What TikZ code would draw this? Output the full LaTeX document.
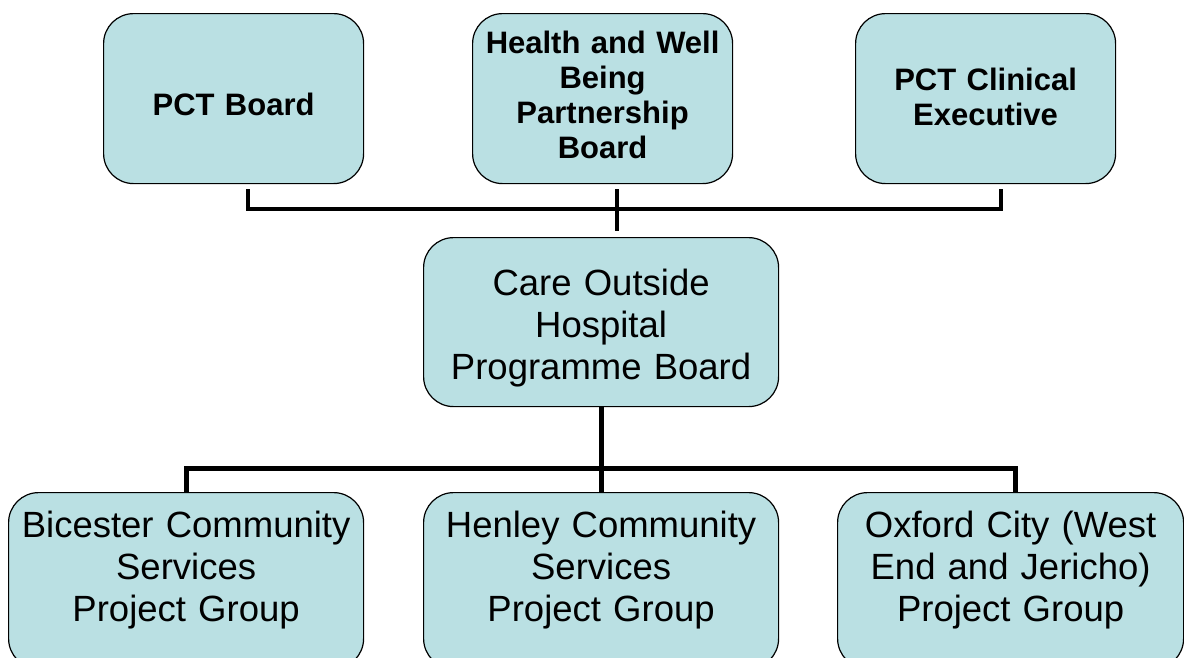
\documentclass[tikz,border=0pt]{standalone}
\usepackage{fontspec}
\setmainfont{Liberation Sans}
\usepackage{xcolor}
\usepackage{tikz}
\usetikzlibrary{positioning,calc}

\definecolor{boxfill}{RGB}{186,224,227}

\begin{document}
\begin{tikzpicture}[x=1pt, y=-1pt]
  % Define styles
  \tikzstyle{orgbox} = [rectangle, draw=black, line width=1.2pt, fill=boxfill, rounded corners=30pt, inner xsep=2pt, inner ysep=0pt, align=center, anchor=north west]
  \tikzstyle{board} = [orgbox, text width=256pt, font=\fontsize{31}{35}\selectfont\bfseries]
  \tikzstyle{group} = [orgbox, text width=351pt, font=\fontsize{36.5}{42}\selectfont]
  \tikzstyle{toplink} = [line width=4pt]
  \tikzstyle{lowlink} = [line width=5pt]

  \useasboundingbox (0,0) rectangle (1184,657);

  % Boards on top
  \node [board, text height=102pt, text depth=68pt] (pctboard) at (103,13) {PCT Board};
  \node [board, text height=40pt, text depth=130pt] (hwb) at (472,13) {Health and Well\\Being\\Partnership\\Board};
  \node [board, text height=77pt, text depth=93pt] (pctclin) at (855,13) {PCT Clinical\\Executive};

  % Programme board
  \node [group, text height=58pt, text depth=111pt] (cohpb) at (423,237) {Care Outside\\Hospital\\Programme Board};

  % Project groups
  \node [group, text height=45pt, text depth=131pt] (bicester) at (8,492) {Bicester Community\\Services\\Project Group};
  \node [group, text height=45pt, text depth=131pt] (henley) at (423,492) {Henley Community\\Services\\Project Group};
  \node [group, text width=342pt, text height=45pt, text depth=131pt] (oxford) at (837,492) {Oxford City (West\\End and Jericho)\\Project Group};

  % Connectors
  \coordinate (topbus) at (615,209);
  \coordinate (lowbus) at (600,468);
  \draw [toplink, shorten <=5pt, shorten >=5pt] ([xshift=14pt]pctboard.south) |- (topbus) -| ([xshift=15pt]pctclin.south);
  \draw [toplink, shorten <=5pt, shorten >=6pt] ([xshift=14pt]hwb.south) -- ([xshift=14pt]hwb.south |- cohpb.north);
  \draw [lowlink] (cohpb.south) -- (henley.north);
  \draw [lowlink] (bicester.north) |- (lowbus) -| ([xshift=5pt]oxford.north);
\end{tikzpicture}
\end{document}
